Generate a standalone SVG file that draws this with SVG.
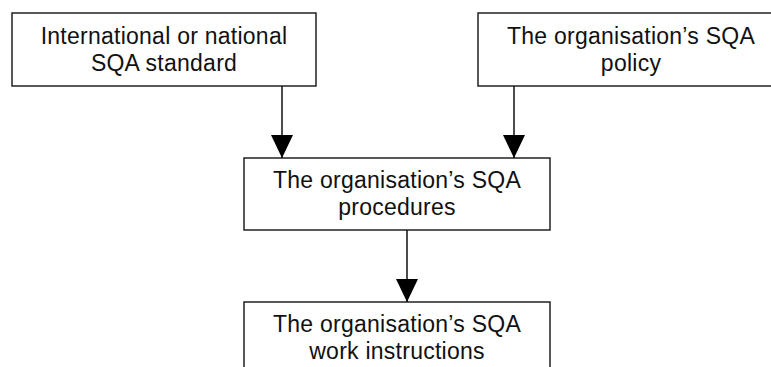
<svg xmlns="http://www.w3.org/2000/svg" width="771" height="367" viewBox="0 0 771 367">
<style>
.box{fill:#fff;stroke:#222;stroke-width:1.5}
.lbl{font-family:"Liberation Sans",Arial,sans-serif;font-size:23px;letter-spacing:0.25px;fill:#111;text-anchor:middle}
.edge{stroke:#111;stroke-width:1.5;fill:none}
</style>
<defs>
<marker id="ah" markerUnits="userSpaceOnUse" markerWidth="24" markerHeight="24" viewBox="0 0 24 24" refX="23" refY="12" orient="auto">
<polygon points="0,1 23,12 0,23" fill="#000"/>
</marker>
</defs>
<rect width="771" height="367" fill="#fff"/>
<g id="n1">
<rect class="box" x="12" y="13" width="304" height="73"/>
<text class="lbl" x="164" y="44">International or national</text>
<text class="lbl" x="164" y="71">SQA standard</text>
</g>
<g id="n2">
<rect class="box" x="478" y="13" width="306" height="73"/>
<text class="lbl" x="631" y="44">The organisation’s SQA</text>
<text class="lbl" x="631" y="71">policy</text>
</g>
<g id="n3">
<rect class="box" x="244" y="158" width="306" height="72"/>
<text class="lbl" x="397" y="188">The organisation’s SQA</text>
<text class="lbl" x="397" y="215">procedures</text>
</g>
<g id="n4">
<rect class="box" x="244" y="302" width="306" height="72"/>
<text class="lbl" x="397" y="332">The organisation’s SQA</text>
<text class="lbl" x="397" y="359">work instructions</text>
</g>
<g id="edges">
<line class="edge" x1="282" y1="86" x2="282" y2="158" marker-end="url(#ah)"/>
<line class="edge" x1="514" y1="86" x2="514" y2="158" marker-end="url(#ah)"/>
<line class="edge" x1="407" y1="230" x2="407" y2="302" marker-end="url(#ah)"/>
</g>
</svg>
